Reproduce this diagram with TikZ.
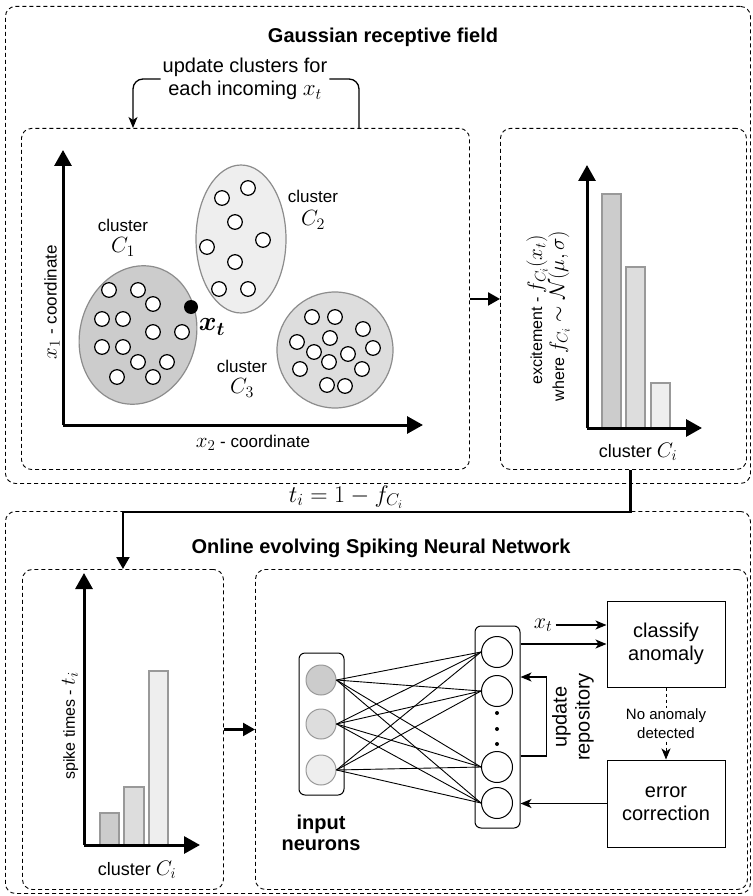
\documentclass[tikz,border=0pt]{standalone}
\usepackage{fix-cm}
\usepackage{fontspec}
\setmainfont{Liberation Sans}
\usetikzlibrary{arrows.meta,calc}

% formulas are set a little larger than the surrounding words
\DeclareMathSizes{16}{21}{15}{11}
\DeclareMathSizes{17}{21}{15}{11}
\DeclareMathSizes{18}{21}{15}{11}
\DeclareMathSizes{20}{23}{16}{12}
\DeclareMathSizes{21}{22}{16}{11}
\DeclareMathSizes{22}{22}{16}{11}
\DeclareMathSizes{24}{24}{17}{12}
\DeclareMathSizes{27}{27}{19}{14}

\definecolor{cA}{HTML}{CCCCCC}
\definecolor{cB}{HTML}{DDDDDD}
\definecolor{cC}{HTML}{EEEEEE}
\definecolor{rim}{HTML}{8C8C8C}
\definecolor{barrim}{HTML}{999999}

\tikzset{
  dbox/.style={draw, dash pattern=on 4pt off 3pt, line width=0.9pt,
    rounded corners=10pt, inner sep=0pt, anchor=north west},
  heading/.style={font=\fontsize{20}{23}\selectfont\bfseries},
  txt/.style={font=\fontsize{20}{23}\selectfont, align=center, inner sep=2pt},
  small/.style={font=\fontsize{17}{20}\selectfont, inner sep=1pt},
  note/.style={font=\fontsize{16}{19}\selectfont, inner sep=0pt},
  sym/.style={font=\fontsize{21}{24}\selectfont, inner sep=1pt},
  axis/.style={line width=3pt, -{Triangle[length=16pt,width=17pt]}},
  thickarr/.style={line width=2.2pt, -{Triangle[length=12pt,width=13pt]}},
  thinarr/.style={line width=1.3pt, -{Stealth[length=11pt,width=9pt,inset=3pt]}},
  cluster/.style={draw=rim, line width=1.2pt},
  member/.style={draw, fill=white, line width=1.2pt},
  bar/.style={draw=barrim, line width=1.2pt},
  neuron/.style={circle, draw, line width=1pt, inner sep=0pt},
  column/.style={draw, line width=1pt, rounded corners=6pt, inner sep=0pt},
  stepbox/.style={draw, line width=1pt, inner sep=0pt, align=center,
    font=\fontsize{20}{23}\selectfont},
  net/.style={line width=0.9pt}
}

\begin{document}
\begin{tikzpicture}[x=1pt,y=-1pt]
\useasboundingbox (0,0) rectangle (752,896);

% ---------- containers ----------
\node[dbox, minimum width=745pt, minimum height=477pt] (top) at (5,6) {};
\node[dbox, minimum width=448pt, minimum height=341pt] (gleft) at (21,128) {};
\node[dbox, minimum width=246pt, minimum height=341pt] (gright) at (500,128) {};
\node[dbox, minimum width=745pt, minimum height=382pt] (bottom) at (5,511) {};
\node[dbox, minimum width=201pt, minimum height=320pt] (sleft) at (22,569) {};
\node[dbox, minimum width=492pt, minimum height=320pt] (sright) at (255,569) {};

% ---------- Gaussian receptive field ----------
\node[heading] (gtitle) at (383,37) {Gaussian receptive field};
\node[txt] (upd) at (245,79) {update clusters for\\each incoming $x_t$};
\draw[thinarr, rounded corners=10pt] (upd.west) -| ($(gleft.north west)+(112,0)$);
\draw[line width=1.3pt, rounded corners=10pt] (upd.east) -| ($(gleft.north west)+(338,0)$);

% clusters
\draw[cluster, fill=cA, rotate around={-15:(138,335)}] (138,335) ellipse [x radius=58pt, y radius=70pt];
\draw[cluster, fill=cC] (241,239) ellipse [x radius=45pt, y radius=74pt];
\draw[cluster, fill=cB] (335,350) circle [radius=58pt];

\foreach \ptx/\pty in {109/290,138/290,153/304,102/319,123/319,153/332,182/332,
                102/347,123/347,138/362,167/362,117/377,153/377,
                222/198,248/188,235/222,263/240,207/247,235/262,219/289,248/289,
                312/317,335/317,363/329,297/342,330/338,373/348,314/352,
                348/354,329/362,300/369,362/369,327/385,345/386}
  {\draw[member] (\ptx,\pty) circle [radius=7.3pt];}

\node[circle, fill, inner sep=0pt, minimum size=14pt] (xdot) at (191,307) {};
\node[font=\fontsize{27}{30}\selectfont\boldmath] (xtl) at (212,327) {$x_t$};

\node[small] (c1w) at (123,225) {cluster};
\node[sym] (c1s) at (123,247) {$C_1$};
\node[small] (c2w) at (313,196) {cluster};
\node[sym] (c2s) at (313,220) {$C_2$};
\node[small] (c3w) at (242,366) {cluster};
\node[sym] (c3s) at (242,388) {$C_3$};

% axes of the scatter plot
\coordinate (o1) at (63,425);
\draw[axis] (o1) -- (63,150);
\draw[axis] (o1) -- (423,425);
\node[small, rotate=90] (ylab1) at (52,302) {$x_1$ - coordinate};
\node[small] (xlab1) at (253,443) {$x_2$ - coordinate};

\draw[thickarr] (gleft.east) -- (gright.west);

% excitement bars
\draw[bar, fill=cA] (602,194) rectangle (621,428);
\draw[bar, fill=cB] (626,267) rectangle (645,428);
\draw[bar, fill=cC] (651,383) rectangle (670,428);
\coordinate (o2) at (587,428);
\draw[axis] (o2) -- (587,165);
\draw[axis] (o2) -- (702,428);
\node[note, rotate=90] (exc1) at (537,310) {excitement - $f_{C_i}(x_t)$};
\node[note, rotate=90] (exc2) at (559,316) {where $f_{C_i}\sim\mathcal{N}(\mu,\sigma)$};
\node[font=\fontsize{18}{21}\selectfont] (clu2) at (638,452) {cluster $C_i$};

% ---------- transfer to spike times ----------
\draw[thickarr] ([xshift=7pt]gright.south) |- ($(sleft.north)+(0,-57)$) -- (sleft.north);
\node[font=\fontsize{24}{28}\selectfont] (tfor) at (346,497) {$t_i = 1 - f_{C_i}$};

% ---------- Online evolving SNN ----------
\node[heading] (stitle) at (381,548) {Online evolving Spiking Neural Network};

% spike time bars
\draw[bar, fill=cA] (100,813) rectangle (119,845);
\draw[bar, fill=cB] (124,787) rectangle (144,845);
\draw[bar, fill=cC] (149,671) rectangle (168,845);
\coordinate (o3) at (84,845);
\draw[axis] (o3) -- (84,573);
\draw[axis] (o3) -- (200,845);
\node[note, rotate=90] (spk) at (70,726) {spike times - $t_i$};
\node[font=\fontsize{18}{21}\selectfont] (clu3) at (137,870) {cluster $C_i$};

\draw[thickarr] (sleft.east) -- (sright.west);

% network
\node[column, minimum width=45pt, minimum height=142pt] (incol) at (321.5,724) {};
\node[column, minimum width=45pt, minimum height=202pt] (outcol) at (497.5,727) {};
\node[neuron, draw=barrim, fill=cA, minimum size=30pt] (i1) at (321,680) {};
\node[neuron, draw=barrim, fill=cB, minimum size=30pt] (i2) at (321,724) {};
\node[neuron, draw=barrim, fill=cC, minimum size=30pt] (i3) at (321,770) {};
\node[neuron, fill=white, minimum size=31pt] (n1) at (497,652) {};
\node[neuron, fill=white, minimum size=31pt] (n2) at (497,691) {};
\node[neuron, fill=white, minimum size=31pt] (n3) at (497,767) {};
\node[neuron, fill=white, minimum size=31pt] (n4) at (497,803) {};
\foreach \yy in {713,729,744} {\path[fill] (497,\yy) circle [radius=2pt];}
\foreach \ii in {1,2,3}
  \foreach \oo in {1,2,3,4}
    {\draw[net] (i\ii.east) -- (n\oo.west);}
\node[align=center, font=\fontsize{20}{21}\selectfont\bfseries] (inl) at (321,833) {input\\neurons};

\node[stepbox, minimum width=118pt, minimum height=86pt] (cls) at (666,644) {classify\\anomaly};
\node[stepbox, minimum width=118pt, minimum height=87pt] (err) at (666,803.5) {error\\correction};

\node[font=\fontsize{22}{26}\selectfont] (xt2) at (543,625) {$x_t$};
\draw[thinarr] (xt2.east) -- (cls.west |- xt2.east);
\draw[thinarr] (outcol.east |- cls.west) -- (cls.west);
\draw[thinarr, line width=1pt, dash pattern=on 3pt off 3pt] (cls.south) -- (err.north)
  node[midway, fill=white, align=center, inner sep=1pt, font=\fontsize{15}{19}\selectfont] (noan) {No anomaly\\detected};
\draw[thinarr, line width=1.6pt] (err.west) -- (outcol.east |- err.west);
\draw[thinarr] ($(outcol.east)+(0,29)$) -- ++(26,0) |- ($(outcol.east)+(0,-50)$);
\node[rotate=90, txt] (upr) at (573,717) {update\\repository};

\end{tikzpicture}
\end{document}
